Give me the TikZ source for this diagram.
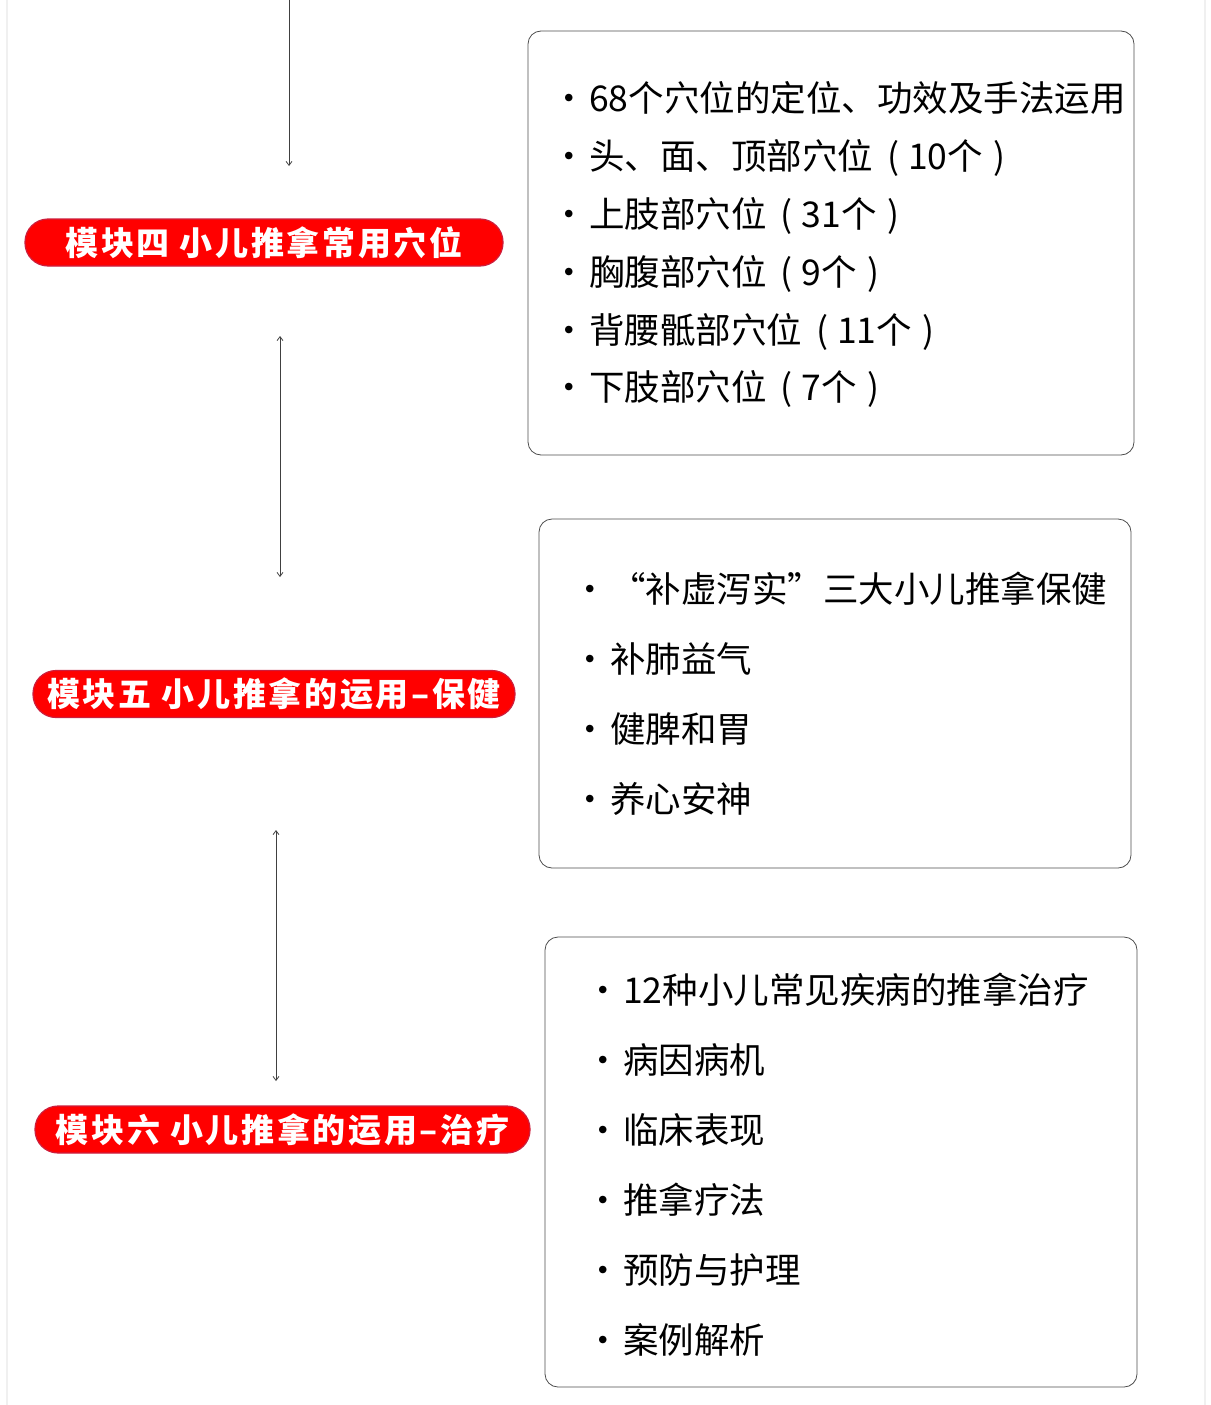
\documentclass[tikz,border=0pt]{standalone}
\usepackage{fontspec}
\usepackage{tikz}
\usetikzlibrary{arrows.meta}
\newfontfamily\cjk{Noto Sans CJK SC}
\newcommand{\bul}[1]{\makebox[40pt][c]{·}#1}
\newcommand{\cnt}[1]{\hspace{0.4em}(\hspace{0.25em}#1个\hspace{0.3em})}

\begin{document}
\begin{tikzpicture}[x=1pt, y=-1pt,
	pill/.style={rounded corners=23pt, fill=red, draw={rgb,255:red,205;green,30;blue,60}, line width=1.2pt,
	minimum height=47pt, inner sep=0pt, text=white, font=\cjk\fontsize{33}{33}\selectfont\bfseries\addfontfeature{LetterSpace=8}},
	card/.style={draw=black!70, line width=0.8pt, rounded corners=13pt, inner sep=0pt},
	item/.style={anchor=west, inner sep=0pt, text height=0.88em, text depth=0.12em, font=\cjk\fontsize{35.5}{36}\selectfont},
	line/.style={draw=black!75, line width=0.8pt},
	link/.style={line, {Straight Barb[length=4pt,width=6pt]}-{Straight Barb[length=4pt,width=6pt]}},
	flow/.style={line, -{Straight Barb[length=4pt,width=6pt]}}]
\useasboundingbox (0,0) rectangle (1210,1405);
\draw[black!6, line width=1.5pt] (7,0) -- (7,1405);
\draw[black!6, line width=1.5pt] (1205,0) -- (1205,1405);
% modules
\node[pill, minimum width=478pt] (m4) at (264,242.5) {模块四 小儿推拿常用穴位};
\node[pill, minimum width=482pt] (m5) at (274,694) {模块五 小儿推拿的运用–保健};
\node[pill, minimum width=495pt] (m6) at (282.5,1129.5) {模块六 小儿推拿的运用–治疗};
% content boxes
\node[card, minimum width=606pt, minimum height=424pt] (b4) at (831,243) {};
\node[card, minimum width=592pt, minimum height=349pt] (b5) at (835,693.5) {};
\node[card, minimum width=592pt, minimum height=450pt] (b6) at (841,1162) {};
\foreach \t [count=\i] in {68个穴位的定位、功效及手法运用, 头、面、顶部穴位\cnt{10}, 上肢部穴位\cnt{31}, 胸腹部穴位\cnt{9}, 背腰骶部穴位\cnt{11}, 下肢部穴位\cnt{7}}
	\node[item] (b4-\i) at (549,{108+57.8*(\i-1)}) {\bul{\t}};
\foreach \t [count=\i] in {“补虚泻实”三大小儿推拿保健, 补肺益气, 健脾和胃, 养心安神}
	\node[item] (b5-\i) at (570,{599+70*(\i-1)}) {\bul{\t}};
\foreach \t [count=\i] in {12种小儿常见疾病的推拿治疗, 病因病机, 临床表现, 推拿疗法, 预防与护理, 案例解析}
	\node[item] (b6-\i) at (583,{1000+70*(\i-1)}) {\bul{\t}};
% connectors
\coordinate (top) at (289,0);
\coordinate (a1) at (289,166);
\coordinate (a2s) at (280,336);
\coordinate (a2e) at (280,577);
\coordinate (a3s) at (276,830);
\coordinate (a3e) at (276,1081);
\draw[flow] (top) -- (a1);
\draw[link] (a2s) -- (a2e);
\draw[link] (a3s) -- (a3e);
\end{tikzpicture}
\end{document}
